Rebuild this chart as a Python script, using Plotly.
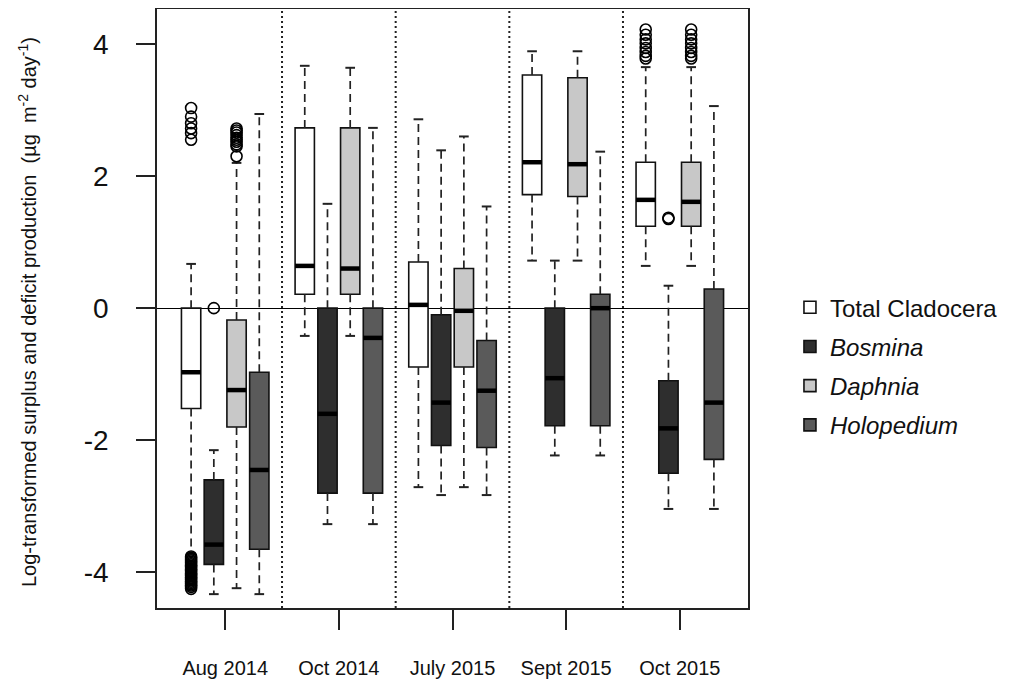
import plotly.graph_objects as go

# ---------------- data ----------------
groups = ["Aug 2014", "Oct 2014", "July 2015", "Sept 2015", "Oct 2015"]
series = ["Total Cladocera", "Bosmina", "Daphnia", "Holopedium"]
legend_labels = ["Total Cladocera", "<i>Bosmina</i>", "<i>Daphnia</i>", "<i>Holopedium</i>"]
fills = ["#ffffff", "#2e2e2e", "#c8c8c8", "#5a5a5a"]
y_ticks = [-4, -2, 0, 2, 4]
y_tick_labels = ["-4", "-2", "0", "2", "4"]

total_lower = [-3.72, -0.42, -2.71, 0.72, 0.64]
total_q1 = [-1.52, 0.21, -0.89, 1.72, 1.24]
total_med = [-0.97, 0.64, 0.05, 2.21, 1.64]
total_q3 = [0.00, 2.73, 0.70, 3.53, 2.21]
total_upper = [0.67, 3.67, 2.86, 3.89, 3.65]

bosmina_lower = [-4.33, -3.27, -2.83, -2.23, -3.04]
bosmina_q1 = [-3.88, -2.80, -2.08, -1.78, -2.50]
bosmina_med = [-3.58, -1.60, -1.43, -1.06, -1.82]
bosmina_q3 = [-2.60, 0.00, -0.10, 0.00, -1.10]
bosmina_upper = [-2.15, 1.58, 2.39, 0.72, 0.34]

daphnia_lower = [-4.24, -0.42, -2.71, 0.72, 0.64]
daphnia_q1 = [-1.80, 0.21, -0.89, 1.69, 1.24]
daphnia_med = [-1.24, 0.60, -0.04, 2.18, 1.61]
daphnia_q3 = [-0.18, 2.73, 0.60, 3.49, 2.21]
daphnia_upper = [2.20, 3.64, 2.60, 3.89, 3.65]

holo_lower = [-4.33, -3.27, -2.83, -2.23, -3.04]
holo_q1 = [-3.65, -2.80, -2.11, -1.78, -2.29]
holo_med = [-2.45, -0.45, -1.25, 0.00, -1.43]
holo_q3 = [-0.97, 0.00, -0.49, 0.21, 0.29]
holo_upper = [2.94, 2.73, 1.54, 2.37, 3.06]

# outliers: group index -> values
total_out = {0: [3.03, 2.90, 2.80, 2.72, 2.65, 2.55,
                 -3.76, -3.78, -3.80, -3.82, -3.84, -3.86, -3.88, -3.90, -3.92,
                 -3.94, -3.96, -3.98, -4.00, -4.02, -4.04, -4.06, -4.08, -4.10,
                 -4.12, -4.14, -4.16, -4.18, -4.20, -4.22, -4.25],
             4: [4.22, 4.14, 4.07, 4.01, 3.94, 3.88, 3.82, 3.78]}
bosmina_out = {0: [0.00], 4: [1.37, 1.35]}
daphnia_out = {0: [2.72, 2.69, 2.66, 2.62, 2.58, 2.55, 2.52, 2.48, 2.45, 2.30],
               4: [4.22, 4.14, 4.07, 4.01, 3.94, 3.88, 3.82, 3.78]}
holo_out = {}

stats = [
    (total_lower, total_q1, total_med, total_q3, total_upper, total_out),
    (bosmina_lower, bosmina_q1, bosmina_med, bosmina_q3, bosmina_upper, bosmina_out),
    (daphnia_lower, daphnia_q1, daphnia_med, daphnia_q3, daphnia_upper, daphnia_out),
    (holo_lower, holo_q1, holo_med, holo_q3, holo_upper, holo_out),
]

# ---------------- layout constants ----------------
group_pos = list(range(1, len(groups) + 1))
offsets = [-0.3, -0.1, 0.1, 0.3]
box_w = 0.17
cap_w = box_w * 0.5
FONT = "Liberation Sans, Arial, sans-serif"

fig = go.Figure()

# boxes
for s, (name, lab, col) in enumerate(zip(series, legend_labels, fills)):
    lo, q1, med, q3, up, out = stats[s]
    xs = [g + offsets[s] for g in group_pos]
    fig.add_trace(go.Bar(
        x=xs, y=[b - a for a, b in zip(q1, q3)], base=q1, width=box_w,
        marker=dict(color=col, line=dict(color="#111111", width=1.6)),
        name=lab, legendgroup=name, showlegend=True, hoverinfo="skip",
    ))

# whiskers, caps, medians, outliers
for s, name in enumerate(series):
    lo, q1, med, q3, up, out = stats[s]
    xs = [g + offsets[s] for g in group_pos]
    wx, wy, cx, cy, mx, my = [], [], [], [], [], []
    for i, x in enumerate(xs):
        wx += [x, x, None, x, x, None]
        wy += [q3[i], up[i], None, q1[i], lo[i], None]
        cx += [x - cap_w / 2, x + cap_w / 2, None, x - cap_w / 2, x + cap_w / 2, None]
        cy += [up[i], up[i], None, lo[i], lo[i], None]
        mx += [x - box_w / 2, x + box_w / 2, None]
        my += [med[i], med[i], None]
    fig.add_trace(go.Scatter(x=wx, y=wy, mode="lines", showlegend=False, hoverinfo="skip",
                             line=dict(color="#222222", width=1.7, dash="8px,5px")))
    fig.add_trace(go.Scatter(x=cx, y=cy, mode="lines", showlegend=False, hoverinfo="skip",
                             line=dict(color="#222222", width=2)))
    fig.add_trace(go.Scatter(x=mx, y=my, mode="lines", showlegend=False, hoverinfo="skip",
                             line=dict(color="#000000", width=4.5)))
    ox, oy = [], []
    for gi, vals in out.items():
        ox += [xs[gi]] * len(vals)
        oy += vals
    if ox:
        fig.add_trace(go.Scatter(x=ox, y=oy, mode="markers", showlegend=False, hoverinfo="skip",
                                 marker=dict(symbol="circle-open", size=11, color="#000000",
                                             line=dict(width=1.6))))

# dotted separators between groups
for a, b in zip(group_pos[:-1], group_pos[1:]):
    fig.add_shape(type="line", xref="x", yref="paper", x0=(a + b) / 2, x1=(a + b) / 2,
                  y0=0, y1=1, line=dict(color="#222222", width=2, dash="2px,3px"), layer="above")

fig.add_annotation(
    text="Log-transformed surplus and deficit production  (µg  m<sup>-2</sup> day<sup>-1</sup>)",
    xref="paper", yref="paper", x=-0.220, y=0.494, textangle=-90, showarrow=False,
    font=dict(family=FONT, size=20, color="#111111"), xanchor="center", yanchor="middle")

# the page body adds an 8 px offset; the figure is sized so that the plot
# area lands where the reference has it
fig.update_layout(
    template="none",
    width=1008, height=676,
    margin=dict(l=149, r=268, t=1, b=76, autoexpand=False),
    plot_bgcolor="white", paper_bgcolor="white",
    barmode="overlay",
    font=dict(family=FONT, color="#111111"),
    showlegend=True,
    legend=dict(x=1.071, xanchor="left", y=0.539, yanchor="top",
                font=dict(family=FONT, size=24, color="#111111"),
                traceorder="grouped", tracegroupgap=5, bgcolor="rgba(0,0,0,0)"),
    xaxis=dict(range=[0.4, 5.6], tickvals=group_pos, ticktext=groups, automargin=False,
               showgrid=False, zeroline=False, showline=True, mirror=True,
               linecolor="#222222", linewidth=1.6,
               ticks="outside", ticklen=20, tickwidth=1.6, tickcolor="#222222",
               ticklabelstandoff=21, tickfont=dict(family=FONT, size=20, color="#111111")),
    yaxis=dict(range=[-4.54, 4.53], tickvals=y_ticks, ticktext=y_tick_labels, automargin=False,
               showgrid=False, zeroline=True, zerolinecolor="#000000", zerolinewidth=1.2,
               showline=True, mirror=True, linecolor="#222222", linewidth=1.6,
               ticks="outside", ticklen=19, tickwidth=1.6, tickcolor="#222222",
               ticklabelstandoff=22, tickfont=dict(family=FONT, size=28, color="#111111")),
)

fig.write_html("out.html")
